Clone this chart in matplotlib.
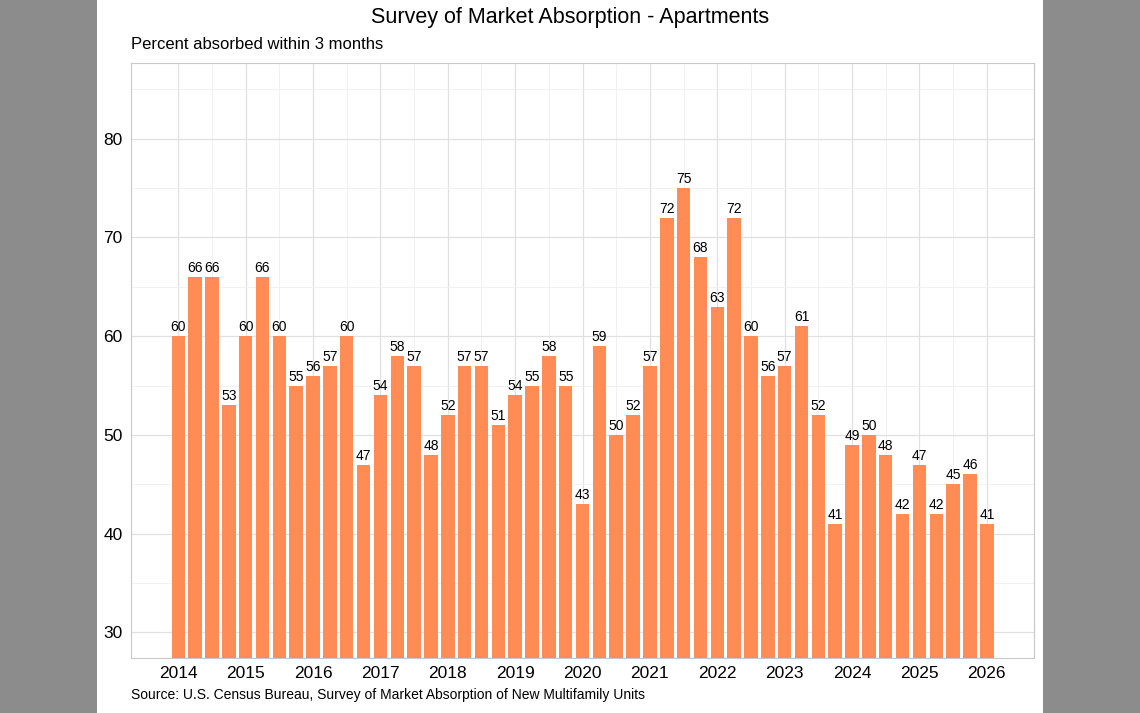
import matplotlib
matplotlib.use("Agg")
import matplotlib.pyplot as plt
from matplotlib.patches import Rectangle
import numpy as np

plt.rcParams['font.family'] = ['Liberation Sans', 'DejaVu Sans']

values = [60, 66, 66, 53, 60, 66, 60, 55, 56, 57, 60, 47, 54, 58, 57, 48,
          52, 57, 57, 51, 54, 55, 58, 55, 43, 59, 50, 52, 57, 72, 75, 68,
          63, 72, 60, 56, 57, 61, 52, 41, 49, 50, 48, 42, 47, 42, 45, 46, 41]
years = list(range(2014, 2027))
dates = 2014 + np.arange(len(values)) * 0.25

fig = plt.figure(figsize=(11.4, 7.13), dpi=100, facecolor="#8c8c8c")
fig.patches.append(Rectangle((0.085, 0), 0.83, 1, transform=fig.transFigure,
                             facecolor="white", edgecolor="none", zorder=-10))
ax = fig.add_axes([0.115, 0.077, 0.792, 0.835])
ax.set_facecolor("white")

base = 27.4
ax.bar(dates, np.array(values) - base, bottom=base, width=0.2,
       color="#ff8c55", zorder=3)
for x, v in zip(dates, values):
    ax.text(x, v + 0.2, str(v), ha="center", va="bottom", fontsize=10, zorder=4)

ax.set_xlim(2013.3, 2026.7)
ax.set_ylim(base, 87.7)
ax.set_xticks(years)
ax.set_xticks(np.array(years[:-1]) + 0.5, minor=True)
ax.set_yticks([30, 40, 50, 60, 70, 80])
ax.set_yticks([35, 45, 55, 65, 75, 85], minor=True)
ax.grid(which="major", color="#e0e0e0", lw=0.9, zorder=0)
ax.grid(which="minor", color="#efefef", lw=0.6, zorder=0)
ax.set_axisbelow(True)
ax.tick_params(which="both", length=0, labelsize=12.5, pad=6)
for s in ax.spines.values():
    s.set_color("#c8c8c8")

fig.text(0.5, 0.975, "Survey of Market Absorption - Apartments", ha="center",
         va="center", fontsize=15.5)
fig.text(0.115, 0.938, "Percent absorbed within 3 months", ha="left",
         va="center", fontsize=12)
fig.text(0.115, 0.025, "Source: U.S. Census Bureau, Survey of Market Absorption of New Multifamily Units",
         ha="left", va="center", fontsize=10)

fig.savefig("out.png", dpi=100, facecolor=fig.get_facecolor())
